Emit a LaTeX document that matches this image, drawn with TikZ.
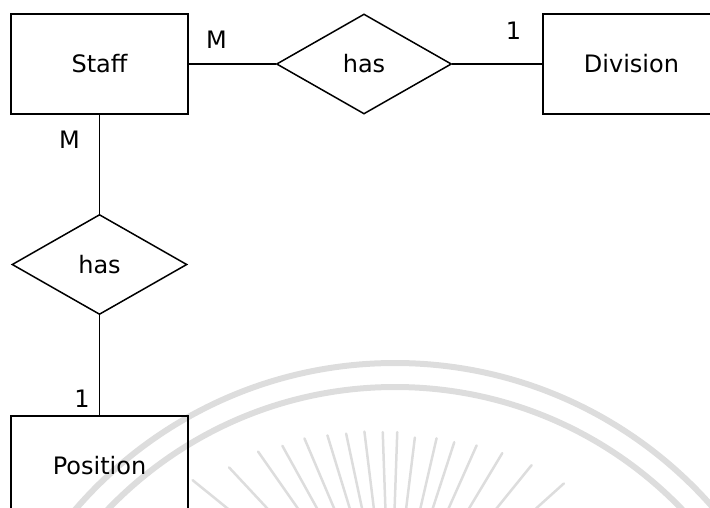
\documentclass[tikz,border=0pt]{standalone}
\usepackage{fontspec}
\setmainfont{DejaVu Sans}
\usetikzlibrary{positioning,shapes.geometric}

\begin{document}
\begin{tikzpicture}[
  x=1pt, y=1pt,
  font=\fontsize{24}{29}\selectfont,
  entity/.style={draw, line width=1.5pt, minimum width=177pt, minimum height=100pt, inner sep=0pt},
  relation/.style={draw, diamond, line width=1.5pt, minimum width=175pt, minimum height=100pt, inner sep=0pt},
  card/.style={inner sep=1pt},
  link/.style={line width=1.5pt},
  seal/.style={draw=gray!27, line cap=round}
]
\useasboundingbox (0,0) rectangle (710,-507);
\clip (0,0) rectangle (710,-507);

% faint seal behind the diagram
\draw[seal, line width=6pt] (395,-785) circle[radius=422pt];
\draw[seal, line width=6pt] (395,-785) circle[radius=398pt];
\foreach \a/\r in {42/234, 51/225, 59/218, 66/213, 72/208, 77/207, 83/204, 88/208, 92/208,
                   97/210, 102/211, 107/214, 113/219, 119/222, 125/230, 133/236, 141/254}
  \draw[seal, line width=2.5pt] (390,-640) ++(\a:\r pt) -- ++(\a+180:110pt);

\node[entity] (staff) at (99.5,-64) {Staff};
\node[relation, right=87pt of staff] (hasdiv) {has};
\node[entity, right=90pt of hasdiv] (division) {Division};
\node[relation, below=99pt of staff] (haspos) {has};
\node[entity, below=100pt of haspos] (position) {Position};

\draw[link] (staff) -- node[card, pos=0.32, above=14pt]{M} (hasdiv);
\draw[link] (hasdiv) -- node[card, pos=0.68, above=23pt]{1} (division);
\draw[link] (staff) -- node[card, pos=0.25, left=18pt]{M} (haspos);
\draw[link] (haspos) -- node[card, pos=0.83, left=8pt]{1} (position);
\end{tikzpicture}
\end{document}
